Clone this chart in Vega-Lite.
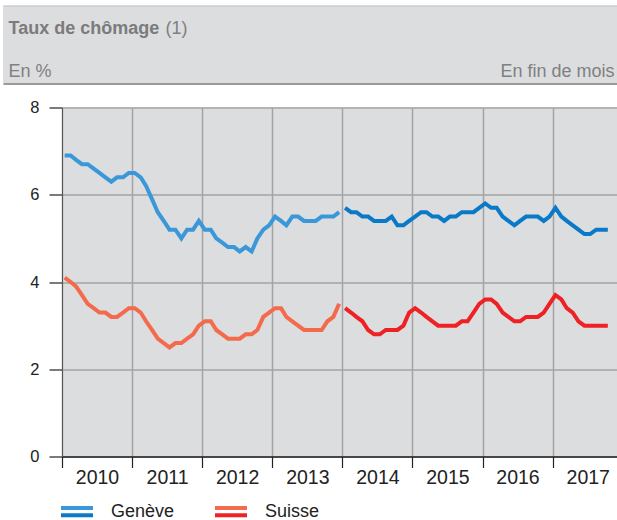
{
  "$schema": "https://vega.github.io/schema/vega-lite/v6.json",
  "padding": {"left": 3, "top": 5.5, "right": 0, "bottom": 0},
  "background": "white",
  "config": {"font": "Liberation Sans", "view": {"stroke": null}},
  "datasets": {
    "chomage": [
      {"date": "2010-01-15", "serie": "Genève", "periode": "2010-2013", "value": 6.9},
      {"date": "2010-02-15", "serie": "Genève", "periode": "2010-2013", "value": 6.9},
      {"date": "2010-03-15", "serie": "Genève", "periode": "2010-2013", "value": 6.8},
      {"date": "2010-04-15", "serie": "Genève", "periode": "2010-2013", "value": 6.7},
      {"date": "2010-05-15", "serie": "Genève", "periode": "2010-2013", "value": 6.7},
      {"date": "2010-06-15", "serie": "Genève", "periode": "2010-2013", "value": 6.6},
      {"date": "2010-07-15", "serie": "Genève", "periode": "2010-2013", "value": 6.5},
      {"date": "2010-08-15", "serie": "Genève", "periode": "2010-2013", "value": 6.4},
      {"date": "2010-09-15", "serie": "Genève", "periode": "2010-2013", "value": 6.3},
      {"date": "2010-10-15", "serie": "Genève", "periode": "2010-2013", "value": 6.4},
      {"date": "2010-11-15", "serie": "Genève", "periode": "2010-2013", "value": 6.4},
      {"date": "2010-12-15", "serie": "Genève", "periode": "2010-2013", "value": 6.5},
      {"date": "2011-01-15", "serie": "Genève", "periode": "2010-2013", "value": 6.5},
      {"date": "2011-02-15", "serie": "Genève", "periode": "2010-2013", "value": 6.4},
      {"date": "2011-03-15", "serie": "Genève", "periode": "2010-2013", "value": 6.2},
      {"date": "2011-04-15", "serie": "Genève", "periode": "2010-2013", "value": 5.9},
      {"date": "2011-05-15", "serie": "Genève", "periode": "2010-2013", "value": 5.6},
      {"date": "2011-06-15", "serie": "Genève", "periode": "2010-2013", "value": 5.4},
      {"date": "2011-07-15", "serie": "Genève", "periode": "2010-2013", "value": 5.2},
      {"date": "2011-08-15", "serie": "Genève", "periode": "2010-2013", "value": 5.2},
      {"date": "2011-09-15", "serie": "Genève", "periode": "2010-2013", "value": 5.0},
      {"date": "2011-10-15", "serie": "Genève", "periode": "2010-2013", "value": 5.2},
      {"date": "2011-11-15", "serie": "Genève", "periode": "2010-2013", "value": 5.2},
      {"date": "2011-12-15", "serie": "Genève", "periode": "2010-2013", "value": 5.4},
      {"date": "2012-01-15", "serie": "Genève", "periode": "2010-2013", "value": 5.2},
      {"date": "2012-02-15", "serie": "Genève", "periode": "2010-2013", "value": 5.2},
      {"date": "2012-03-15", "serie": "Genève", "periode": "2010-2013", "value": 5.0},
      {"date": "2012-04-15", "serie": "Genève", "periode": "2010-2013", "value": 4.9},
      {"date": "2012-05-15", "serie": "Genève", "periode": "2010-2013", "value": 4.8},
      {"date": "2012-06-15", "serie": "Genève", "periode": "2010-2013", "value": 4.8},
      {"date": "2012-07-15", "serie": "Genève", "periode": "2010-2013", "value": 4.7},
      {"date": "2012-08-15", "serie": "Genève", "periode": "2010-2013", "value": 4.8},
      {"date": "2012-09-15", "serie": "Genève", "periode": "2010-2013", "value": 4.7},
      {"date": "2012-10-15", "serie": "Genève", "periode": "2010-2013", "value": 5.0},
      {"date": "2012-11-15", "serie": "Genève", "periode": "2010-2013", "value": 5.2},
      {"date": "2012-12-15", "serie": "Genève", "periode": "2010-2013", "value": 5.3},
      {"date": "2013-01-15", "serie": "Genève", "periode": "2010-2013", "value": 5.5},
      {"date": "2013-02-15", "serie": "Genève", "periode": "2010-2013", "value": 5.4},
      {"date": "2013-03-15", "serie": "Genève", "periode": "2010-2013", "value": 5.3},
      {"date": "2013-04-15", "serie": "Genève", "periode": "2010-2013", "value": 5.5},
      {"date": "2013-05-15", "serie": "Genève", "periode": "2010-2013", "value": 5.5},
      {"date": "2013-06-15", "serie": "Genève", "periode": "2010-2013", "value": 5.4},
      {"date": "2013-07-15", "serie": "Genève", "periode": "2010-2013", "value": 5.4},
      {"date": "2013-08-15", "serie": "Genève", "periode": "2010-2013", "value": 5.4},
      {"date": "2013-09-15", "serie": "Genève", "periode": "2010-2013", "value": 5.5},
      {"date": "2013-10-15", "serie": "Genève", "periode": "2010-2013", "value": 5.5},
      {"date": "2013-11-15", "serie": "Genève", "periode": "2010-2013", "value": 5.5},
      {"date": "2013-12-15", "serie": "Genève", "periode": "2010-2013", "value": 5.6},
      {"date": "2014-01-15", "serie": "Genève", "periode": "2014-2017", "value": 5.7},
      {"date": "2014-02-15", "serie": "Genève", "periode": "2014-2017", "value": 5.6},
      {"date": "2014-03-15", "serie": "Genève", "periode": "2014-2017", "value": 5.6},
      {"date": "2014-04-15", "serie": "Genève", "periode": "2014-2017", "value": 5.5},
      {"date": "2014-05-15", "serie": "Genève", "periode": "2014-2017", "value": 5.5},
      {"date": "2014-06-15", "serie": "Genève", "periode": "2014-2017", "value": 5.4},
      {"date": "2014-07-15", "serie": "Genève", "periode": "2014-2017", "value": 5.4},
      {"date": "2014-08-15", "serie": "Genève", "periode": "2014-2017", "value": 5.4},
      {"date": "2014-09-15", "serie": "Genève", "periode": "2014-2017", "value": 5.5},
      {"date": "2014-10-15", "serie": "Genève", "periode": "2014-2017", "value": 5.3},
      {"date": "2014-11-15", "serie": "Genève", "periode": "2014-2017", "value": 5.3},
      {"date": "2014-12-15", "serie": "Genève", "periode": "2014-2017", "value": 5.4},
      {"date": "2015-01-15", "serie": "Genève", "periode": "2014-2017", "value": 5.5},
      {"date": "2015-02-15", "serie": "Genève", "periode": "2014-2017", "value": 5.6},
      {"date": "2015-03-15", "serie": "Genève", "periode": "2014-2017", "value": 5.6},
      {"date": "2015-04-15", "serie": "Genève", "periode": "2014-2017", "value": 5.5},
      {"date": "2015-05-15", "serie": "Genève", "periode": "2014-2017", "value": 5.5},
      {"date": "2015-06-15", "serie": "Genève", "periode": "2014-2017", "value": 5.4},
      {"date": "2015-07-15", "serie": "Genève", "periode": "2014-2017", "value": 5.5},
      {"date": "2015-08-15", "serie": "Genève", "periode": "2014-2017", "value": 5.5},
      {"date": "2015-09-15", "serie": "Genève", "periode": "2014-2017", "value": 5.6},
      {"date": "2015-10-15", "serie": "Genève", "periode": "2014-2017", "value": 5.6},
      {"date": "2015-11-15", "serie": "Genève", "periode": "2014-2017", "value": 5.6},
      {"date": "2015-12-15", "serie": "Genève", "periode": "2014-2017", "value": 5.7},
      {"date": "2016-01-15", "serie": "Genève", "periode": "2014-2017", "value": 5.8},
      {"date": "2016-02-15", "serie": "Genève", "periode": "2014-2017", "value": 5.7},
      {"date": "2016-03-15", "serie": "Genève", "periode": "2014-2017", "value": 5.7},
      {"date": "2016-04-15", "serie": "Genève", "periode": "2014-2017", "value": 5.5},
      {"date": "2016-05-15", "serie": "Genève", "periode": "2014-2017", "value": 5.4},
      {"date": "2016-06-15", "serie": "Genève", "periode": "2014-2017", "value": 5.3},
      {"date": "2016-07-15", "serie": "Genève", "periode": "2014-2017", "value": 5.4},
      {"date": "2016-08-15", "serie": "Genève", "periode": "2014-2017", "value": 5.5},
      {"date": "2016-09-15", "serie": "Genève", "periode": "2014-2017", "value": 5.5},
      {"date": "2016-10-15", "serie": "Genève", "periode": "2014-2017", "value": 5.5},
      {"date": "2016-11-15", "serie": "Genève", "periode": "2014-2017", "value": 5.4},
      {"date": "2016-12-15", "serie": "Genève", "periode": "2014-2017", "value": 5.5},
      {"date": "2017-01-15", "serie": "Genève", "periode": "2014-2017", "value": 5.7},
      {"date": "2017-02-15", "serie": "Genève", "periode": "2014-2017", "value": 5.5},
      {"date": "2017-03-15", "serie": "Genève", "periode": "2014-2017", "value": 5.4},
      {"date": "2017-04-15", "serie": "Genève", "periode": "2014-2017", "value": 5.3},
      {"date": "2017-05-15", "serie": "Genève", "periode": "2014-2017", "value": 5.2},
      {"date": "2017-06-15", "serie": "Genève", "periode": "2014-2017", "value": 5.1},
      {"date": "2017-07-15", "serie": "Genève", "periode": "2014-2017", "value": 5.1},
      {"date": "2017-08-15", "serie": "Genève", "periode": "2014-2017", "value": 5.2},
      {"date": "2017-09-15", "serie": "Genève", "periode": "2014-2017", "value": 5.2},
      {"date": "2017-10-15", "serie": "Genève", "periode": "2014-2017", "value": 5.2},
      {"date": "2010-01-15", "serie": "Suisse", "periode": "2010-2013", "value": 4.1},
      {"date": "2010-02-15", "serie": "Suisse", "periode": "2010-2013", "value": 4.0},
      {"date": "2010-03-15", "serie": "Suisse", "periode": "2010-2013", "value": 3.9},
      {"date": "2010-04-15", "serie": "Suisse", "periode": "2010-2013", "value": 3.7},
      {"date": "2010-05-15", "serie": "Suisse", "periode": "2010-2013", "value": 3.5},
      {"date": "2010-06-15", "serie": "Suisse", "periode": "2010-2013", "value": 3.4},
      {"date": "2010-07-15", "serie": "Suisse", "periode": "2010-2013", "value": 3.3},
      {"date": "2010-08-15", "serie": "Suisse", "periode": "2010-2013", "value": 3.3},
      {"date": "2010-09-15", "serie": "Suisse", "periode": "2010-2013", "value": 3.2},
      {"date": "2010-10-15", "serie": "Suisse", "periode": "2010-2013", "value": 3.2},
      {"date": "2010-11-15", "serie": "Suisse", "periode": "2010-2013", "value": 3.3},
      {"date": "2010-12-15", "serie": "Suisse", "periode": "2010-2013", "value": 3.4},
      {"date": "2011-01-15", "serie": "Suisse", "periode": "2010-2013", "value": 3.4},
      {"date": "2011-02-15", "serie": "Suisse", "periode": "2010-2013", "value": 3.3},
      {"date": "2011-03-15", "serie": "Suisse", "periode": "2010-2013", "value": 3.1},
      {"date": "2011-04-15", "serie": "Suisse", "periode": "2010-2013", "value": 2.9},
      {"date": "2011-05-15", "serie": "Suisse", "periode": "2010-2013", "value": 2.7},
      {"date": "2011-06-15", "serie": "Suisse", "periode": "2010-2013", "value": 2.6},
      {"date": "2011-07-15", "serie": "Suisse", "periode": "2010-2013", "value": 2.5},
      {"date": "2011-08-15", "serie": "Suisse", "periode": "2010-2013", "value": 2.6},
      {"date": "2011-09-15", "serie": "Suisse", "periode": "2010-2013", "value": 2.6},
      {"date": "2011-10-15", "serie": "Suisse", "periode": "2010-2013", "value": 2.7},
      {"date": "2011-11-15", "serie": "Suisse", "periode": "2010-2013", "value": 2.8},
      {"date": "2011-12-15", "serie": "Suisse", "periode": "2010-2013", "value": 3.0},
      {"date": "2012-01-15", "serie": "Suisse", "periode": "2010-2013", "value": 3.1},
      {"date": "2012-02-15", "serie": "Suisse", "periode": "2010-2013", "value": 3.1},
      {"date": "2012-03-15", "serie": "Suisse", "periode": "2010-2013", "value": 2.9},
      {"date": "2012-04-15", "serie": "Suisse", "periode": "2010-2013", "value": 2.8},
      {"date": "2012-05-15", "serie": "Suisse", "periode": "2010-2013", "value": 2.7},
      {"date": "2012-06-15", "serie": "Suisse", "periode": "2010-2013", "value": 2.7},
      {"date": "2012-07-15", "serie": "Suisse", "periode": "2010-2013", "value": 2.7},
      {"date": "2012-08-15", "serie": "Suisse", "periode": "2010-2013", "value": 2.8},
      {"date": "2012-09-15", "serie": "Suisse", "periode": "2010-2013", "value": 2.8},
      {"date": "2012-10-15", "serie": "Suisse", "periode": "2010-2013", "value": 2.9},
      {"date": "2012-11-15", "serie": "Suisse", "periode": "2010-2013", "value": 3.2},
      {"date": "2012-12-15", "serie": "Suisse", "periode": "2010-2013", "value": 3.3},
      {"date": "2013-01-15", "serie": "Suisse", "periode": "2010-2013", "value": 3.4},
      {"date": "2013-02-15", "serie": "Suisse", "periode": "2010-2013", "value": 3.4},
      {"date": "2013-03-15", "serie": "Suisse", "periode": "2010-2013", "value": 3.2},
      {"date": "2013-04-15", "serie": "Suisse", "periode": "2010-2013", "value": 3.1},
      {"date": "2013-05-15", "serie": "Suisse", "periode": "2010-2013", "value": 3.0},
      {"date": "2013-06-15", "serie": "Suisse", "periode": "2010-2013", "value": 2.9},
      {"date": "2013-07-15", "serie": "Suisse", "periode": "2010-2013", "value": 2.9},
      {"date": "2013-08-15", "serie": "Suisse", "periode": "2010-2013", "value": 2.9},
      {"date": "2013-09-15", "serie": "Suisse", "periode": "2010-2013", "value": 2.9},
      {"date": "2013-10-15", "serie": "Suisse", "periode": "2010-2013", "value": 3.1},
      {"date": "2013-11-15", "serie": "Suisse", "periode": "2010-2013", "value": 3.2},
      {"date": "2013-12-15", "serie": "Suisse", "periode": "2010-2013", "value": 3.5},
      {"date": "2014-01-15", "serie": "Suisse", "periode": "2014-2017", "value": 3.4},
      {"date": "2014-02-15", "serie": "Suisse", "periode": "2014-2017", "value": 3.3},
      {"date": "2014-03-15", "serie": "Suisse", "periode": "2014-2017", "value": 3.2},
      {"date": "2014-04-15", "serie": "Suisse", "periode": "2014-2017", "value": 3.1},
      {"date": "2014-05-15", "serie": "Suisse", "periode": "2014-2017", "value": 2.9},
      {"date": "2014-06-15", "serie": "Suisse", "periode": "2014-2017", "value": 2.8},
      {"date": "2014-07-15", "serie": "Suisse", "periode": "2014-2017", "value": 2.8},
      {"date": "2014-08-15", "serie": "Suisse", "periode": "2014-2017", "value": 2.9},
      {"date": "2014-09-15", "serie": "Suisse", "periode": "2014-2017", "value": 2.9},
      {"date": "2014-10-15", "serie": "Suisse", "periode": "2014-2017", "value": 2.9},
      {"date": "2014-11-15", "serie": "Suisse", "periode": "2014-2017", "value": 3.0},
      {"date": "2014-12-15", "serie": "Suisse", "periode": "2014-2017", "value": 3.3},
      {"date": "2015-01-15", "serie": "Suisse", "periode": "2014-2017", "value": 3.4},
      {"date": "2015-02-15", "serie": "Suisse", "periode": "2014-2017", "value": 3.3},
      {"date": "2015-03-15", "serie": "Suisse", "periode": "2014-2017", "value": 3.2},
      {"date": "2015-04-15", "serie": "Suisse", "periode": "2014-2017", "value": 3.1},
      {"date": "2015-05-15", "serie": "Suisse", "periode": "2014-2017", "value": 3.0},
      {"date": "2015-06-15", "serie": "Suisse", "periode": "2014-2017", "value": 3.0},
      {"date": "2015-07-15", "serie": "Suisse", "periode": "2014-2017", "value": 3.0},
      {"date": "2015-08-15", "serie": "Suisse", "periode": "2014-2017", "value": 3.0},
      {"date": "2015-09-15", "serie": "Suisse", "periode": "2014-2017", "value": 3.1},
      {"date": "2015-10-15", "serie": "Suisse", "periode": "2014-2017", "value": 3.1},
      {"date": "2015-11-15", "serie": "Suisse", "periode": "2014-2017", "value": 3.3},
      {"date": "2015-12-15", "serie": "Suisse", "periode": "2014-2017", "value": 3.5},
      {"date": "2016-01-15", "serie": "Suisse", "periode": "2014-2017", "value": 3.6},
      {"date": "2016-02-15", "serie": "Suisse", "periode": "2014-2017", "value": 3.6},
      {"date": "2016-03-15", "serie": "Suisse", "periode": "2014-2017", "value": 3.5},
      {"date": "2016-04-15", "serie": "Suisse", "periode": "2014-2017", "value": 3.3},
      {"date": "2016-05-15", "serie": "Suisse", "periode": "2014-2017", "value": 3.2},
      {"date": "2016-06-15", "serie": "Suisse", "periode": "2014-2017", "value": 3.1},
      {"date": "2016-07-15", "serie": "Suisse", "periode": "2014-2017", "value": 3.1},
      {"date": "2016-08-15", "serie": "Suisse", "periode": "2014-2017", "value": 3.2},
      {"date": "2016-09-15", "serie": "Suisse", "periode": "2014-2017", "value": 3.2},
      {"date": "2016-10-15", "serie": "Suisse", "periode": "2014-2017", "value": 3.2},
      {"date": "2016-11-15", "serie": "Suisse", "periode": "2014-2017", "value": 3.3},
      {"date": "2016-12-15", "serie": "Suisse", "periode": "2014-2017", "value": 3.5},
      {"date": "2017-01-15", "serie": "Suisse", "periode": "2014-2017", "value": 3.7},
      {"date": "2017-02-15", "serie": "Suisse", "periode": "2014-2017", "value": 3.6},
      {"date": "2017-03-15", "serie": "Suisse", "periode": "2014-2017", "value": 3.4},
      {"date": "2017-04-15", "serie": "Suisse", "periode": "2014-2017", "value": 3.3},
      {"date": "2017-05-15", "serie": "Suisse", "periode": "2014-2017", "value": 3.1},
      {"date": "2017-06-15", "serie": "Suisse", "periode": "2014-2017", "value": 3.0},
      {"date": "2017-07-15", "serie": "Suisse", "periode": "2014-2017", "value": 3.0},
      {"date": "2017-08-15", "serie": "Suisse", "periode": "2014-2017", "value": 3.0},
      {"date": "2017-09-15", "serie": "Suisse", "periode": "2014-2017", "value": 3.0},
      {"date": "2017-10-15", "serie": "Suisse", "periode": "2014-2017", "value": 3.0}
    ]
  },
  "spacing": 16,
  "vconcat": [
    {
      "width": 614,
      "height": 78,
      "view": {"fill": "#DCDDDF", "stroke": null},
      "data": {"values": [{"v": 0.5}]},
      "layer": [
        {
          "mark": {"type": "point", "opacity": 0},
          "encoding": {
            "x": {"field": "v", "type": "quantitative", "scale": {"domain": [0, 1]},
              "axis": {"orient": "bottom", "domain": true, "domainColor": "#9a9a9a", "domainWidth": 2, "ticks": false, "labels": false, "grid": false,
                "title": "En fin de mois", "titleX": 611, "titleY": -7, "titleAlign": "right", "titleBaseline": "alphabetic",
                "titleFontSize": 18, "titleFontWeight": "normal", "titleColor": "#808080", "titleFont": "Liberation Sans"}},
            "y": {"field": "v", "type": "quantitative", "scale": {"domain": [0, 1]},
              "axis": {"orient": "left", "domain": false, "ticks": false, "labels": false, "grid": false,
                "title": "En %", "titleAngle": 0, "titleX": 5, "titleY": 71, "titleAlign": "left", "titleBaseline": "alphabetic",
                "titleFontSize": 18, "titleFontWeight": "normal", "titleColor": "#808080", "titleFont": "Liberation Sans"}}
          }
        },
        {
          "mark": {"type": "point", "opacity": 0},
          "encoding": {
            "x": {"field": "v", "type": "quantitative", "scale": {"domain": [0, 1]},
              "axis": {"orient": "top", "domain": true, "domainColor": "#c4c4c4", "domainWidth": 1, "ticks": false, "labels": false, "grid": false,
                "title": "Taux de chômage", "titleX": 5, "titleY": 27.5, "titleAlign": "left", "titleBaseline": "alphabetic",
                "titleFontSize": 18, "titleFontWeight": "bold", "titleColor": "#7b7b7b", "titleFont": "Liberation Sans"}},
            "y": {"field": "v", "type": "quantitative", "scale": {"domain": [0, 1]},
              "axis": {"orient": "right", "domain": false, "ticks": false, "labels": false, "grid": false,
                "title": "(1)", "titleAngle": 0, "titleX": -452, "titleY": 27.5, "titleAlign": "left", "titleBaseline": "alphabetic",
                "titleFontSize": 18, "titleFontWeight": "normal", "titleColor": "#808080", "titleFont": "Liberation Sans"}}
          }
        }
      ],
      "resolve": {"scale": {"x": "independent", "y": "independent"}, "axis": {"x": "independent", "y": "independent"}}
    },
    {
      "spacing": 0,
      "hconcat": [
        {"width": 26, "height": 10, "data": {"values": []}, "mark": "point", "encoding": {}},
        {
          "width": 556,
          "height": 349,
          "view": {"fill": "#DCDDDF", "stroke": null},
          "data": {"name": "chomage"},
          "encoding": {
            "x": {"field": "date", "type": "temporal",
              "scale": {"type": "utc", "domain": [{"year": 2010, "month": 1, "date": 1, "utc": true}, {"year": 2017, "month": 12, "date": 7, "utc": true}]},
              "axis": {
                "values": [
                  {"year": 2010, "month": 1, "date": 1, "utc": true},
                  {"year": 2011, "month": 1, "date": 1, "utc": true},
                  {"year": 2012, "month": 1, "date": 1, "utc": true},
                  {"year": 2013, "month": 1, "date": 1, "utc": true},
                  {"year": 2014, "month": 1, "date": 1, "utc": true},
                  {"year": 2015, "month": 1, "date": 1, "utc": true},
                  {"year": 2016, "month": 1, "date": 1, "utc": true},
                  {"year": 2017, "month": 1, "date": 1, "utc": true}
                ],
                "format": "%Y", "title": null,
                "grid": true, "gridColor": "#a3a3a3", "gridWidth": 1.5,
                "domain": true, "domainColor": "#222222", "domainWidth": 1.5,
                "ticks": true, "tickSize": 11, "tickColor": "#222222", "tickWidth": 1.2,
                "labelFontSize": 19.5, "labelColor": "#222222", "labelPadding": 1, "labelOffset": 35,
                "labelAlign": "center", "labelFlush": false, "labelOverlap": false, "labelBound": false, "labelFont": "Liberation Sans"
              }},
            "y": {"field": "value", "type": "quantitative",
              "scale": {"domain": [0, 8], "nice": false},
              "axis": {
                "values": [0, 2, 4, 6, 8], "title": null,
                "grid": true, "gridColor": "#a3a3a3", "gridWidth": 1.5,
                "domain": true, "domainColor": "#555555", "domainWidth": 1,
                "ticks": true, "tickSize": 13, "tickColor": "#222222", "tickWidth": 1.2,
                "labelFontSize": 16.5, "labelColor": "#222222", "labelPadding": 10, "labelFont": "Liberation Sans"
              }}
          },
          "layer": [
            {
              "transform": [{"filter": "datum.periode == '2010-2013'"}],
              "mark": {"type": "line", "strokeWidth": 4, "strokeCap": "butt"},
              "encoding": {
                "color": {"field": "serie", "type": "nominal",
                  "scale": {"range": ["#3a98d8", "#f36b4c"]},
                  "legend": {"orient": "none", "legendX": 56, "legendY": 488, "direction": "horizontal", "columns": 2, "gridAlign": "each",
                    "title": null, "symbolType": "M-1,-0.22H1", "symbolSize": 1024, "symbolStrokeWidth": 4,
                    "labelFontSize": 18, "labelColor": "#222222", "labelOffset": 16, "columnPadding": 32, "padding": 0, "labelFont": "Liberation Sans"}}
              }
            },
            {
              "transform": [{"filter": "datum.periode == '2014-2017'"}],
              "mark": {"type": "line", "strokeWidth": 4, "strokeCap": "butt"},
              "encoding": {
                "stroke": {"field": "serie", "type": "nominal",
                  "scale": {"domain": ["Genève", "Suisse"], "range": ["#0a79c7", "#ee2125"]},
                  "legend": {"orient": "none", "legendX": 56, "legendY": 488, "direction": "horizontal", "columns": 2, "gridAlign": "each",
                    "title": null, "symbolType": "M-1,0.22H1", "symbolSize": 1024, "symbolStrokeWidth": 4,
                    "labelFontSize": 18, "labelColor": "#222222", "labelOpacity": 0, "labelOffset": 16, "columnPadding": 32, "padding": 0, "labelFont": "Liberation Sans"}}
              }
            }
          ]
        }
      ]
    }
  ]
}
